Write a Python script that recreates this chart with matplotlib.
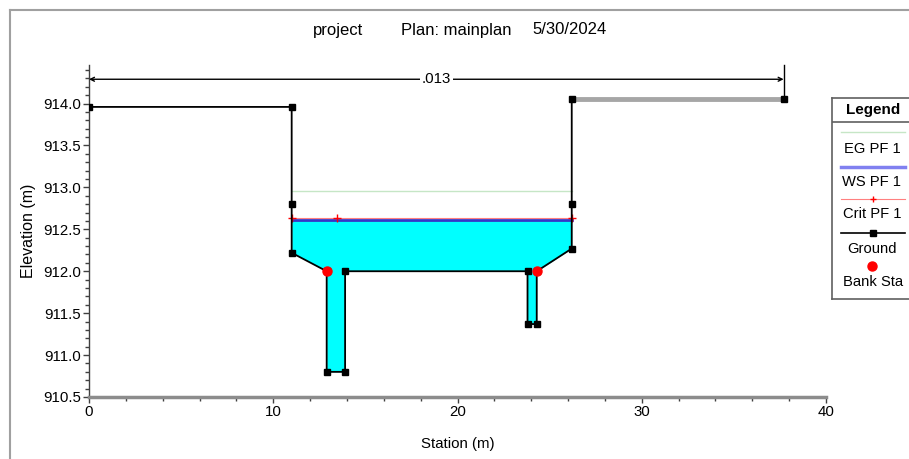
import matplotlib
matplotlib.use("Agg")
import matplotlib.pyplot as plt
from matplotlib.lines import Line2D
import numpy as np

plt.rcParams["font.family"] = ["Liberation Sans", "DejaVu Sans"]
plt.rcParams["font.size"] = 10.8

# ---------------- data ----------------
title_parts = ["project", "Plan: mainplan", "5/30/2024"]

ground_sta = [0.0, 11.0, 11.0, 11.0, 12.9, 12.9, 13.9, 13.9,
              23.8, 23.8, 24.3, 24.3, 26.2, 26.2, 26.2, 37.7]
ground_elev = [913.96, 913.96, 912.8, 912.22, 912.0, 910.8, 910.8, 912.0,
               912.0, 911.37, 911.37, 912.0, 912.27, 912.8, 914.05, 914.05]

bank_sta = [12.9, 24.3]
bank_elev = [912.0, 912.0]

ws_sta = [11.0, 26.2]
ws_elev = 912.61
eg_elev = 912.96
crit_elev = 912.63
crit_mark_sta = 13.45

mann_n = ".013"
mann_sta = [0.0, 37.7]
mann_elev = 914.29

# ---------------- figure ----------------
W, H = 909, 459
fig = plt.figure(figsize=(W / 100, H / 100), dpi=100)

def fx(px):
    return px / W

def fy(py):
    return 1 - py / H

ax = fig.add_axes([fx(89), fy(397), fx(826) - fx(89), fy(65) - fy(397)])
ax.set_xlim(0, 40)
ax.set_ylim(910.5, 914.46)

sta = np.array(ground_sta)
elev = np.array(ground_elev)

# wetted area (between WS and ground inside the channel)
i0, i1 = 3, 12
ax.fill_between(sta[i0:i1 + 1], elev[i0:i1 + 1], ws_elev,
                color="#00ffff", lw=0, zorder=1)

# EG
ax.plot(ws_sta, [eg_elev, eg_elev], color="#c6e6c6", lw=1, zorder=2)
# Crit (thin, peeks out above WS)
ax.plot(ws_sta, [crit_elev] * 2, color="#ff8080", lw=0.8, zorder=2)
# WS
ax.plot(ws_sta, [ws_elev, ws_elev], color="#3535c8", lw=2, zorder=3)
ax.plot([ws_sta[0], crit_mark_sta, ws_sta[1]], [crit_elev] * 3, "+",
        color="red", ms=6, mew=1, lw=0, zorder=4)

# Ground
ax.plot(sta, elev, color="black", lw=1.3, zorder=4)
ax.plot(sta[-2:], elev[-2:], color="#a6a6a6", lw=3.5, zorder=4,
        solid_capstyle="butt")
ax.plot(sta, elev, "s", color="black", ms=5, zorder=5)
ax.plot(bank_sta, bank_elev, "o", color="red", ms=6.5, zorder=6)

# Manning's n
mid = 0.5 * (mann_sta[0] + mann_sta[1])
for end in mann_sta:
    ax.annotate("", xy=(end, mann_elev), xytext=(mid, mann_elev),
                arrowprops=dict(arrowstyle="->", lw=1, color="black",
                                shrinkA=0, shrinkB=0, mutation_scale=7))
ax.plot([mann_sta[1], mann_sta[1]], [ground_elev[-1], 914.46],
        color="black", lw=1, zorder=4, clip_on=False)
ax.text(mid, mann_elev, mann_n, ha="center", va="center", fontsize=10.8,
        bbox=dict(facecolor="white", edgecolor="none", pad=1.5), zorder=6)

# axes styling
for s in ("top", "right"):
    ax.spines[s].set_visible(False)
ax.spines["left"].set_color("#404040")
ax.spines["left"].set_linewidth(1)
ax.spines["bottom"].set_color("#8c8c8c")
ax.spines["bottom"].set_linewidth(2.5)
ax.set_xticks(np.arange(0, 41, 10))
ax.set_xticks(np.arange(0, 41, 2), minor=True)
ax.set_yticks(np.arange(910.5, 914.01, 0.5))
ax.set_yticks(np.arange(910.5, 914.41, 0.1), minor=True)
ax.set_yticklabels([f"{v:.1f}" for v in np.arange(910.5, 914.01, 0.5)])
ax.tick_params(axis="both", which="major", length=4, width=1,
               color="#404040", labelsize=10.8, pad=2)
ax.tick_params(axis="both", which="minor", length=3, width=1, color="#404040")
ax.set_xlabel("Station (m)", fontsize=10.8, labelpad=13)
ax.set_ylabel("Elevation (m)", fontsize=11.5, labelpad=5)

# title pieces
for txt, px in zip(title_parts, [338, 456, 570]):
    fig.text(fx(px), fy(30), txt, ha="center", va="center", fontsize=12)

# outer frame (top and left edges visible)
fig.add_artist(Line2D([fx(10), fx(10)], [fy(10), 0], color="#a0a0a0", lw=1.5))
fig.add_artist(Line2D([fx(10), 1], [fy(10), fy(10)], color="#a0a0a0", lw=1.5))

# legend box
lg = fig.add_axes([fx(832), fy(299), fx(909) - fx(832), fy(98) - fy(299)])
lg.set_xlim(832, 909)
lg.set_ylim(299, 98)
lg.set_xticks([])
lg.set_yticks([])
lg.spines["right"].set_visible(False)
for s in ("left", "top", "bottom"):
    lg.spines[s].set_color("#606060")
    lg.spines[s].set_linewidth(1.2)
lg.text(873, 110, "Legend", ha="center", va="center", fontsize=11,
        fontweight="bold")
lg.plot([832, 909], [122, 122], color="#606060", lw=1.2)
lg.plot([841, 905], [131.5, 131.5], color="#c6e6c6", lw=1)
lg.text(872, 149, "EG PF 1", ha="center", va="center", fontsize=10.6)
lg.plot([841, 905], [167, 167], color="#8080f0", lw=2.5)
lg.text(872, 182, "WS PF 1", ha="center", va="center", fontsize=10.6)
lg.plot([841, 905], [199, 199], color="#ff8080", lw=0.8)
lg.plot([873], [199], "+", color="red", ms=5, mew=1)
lg.text(872, 214, "Crit PF 1", ha="center", va="center", fontsize=10.6)
lg.plot([841, 905], [233, 233], color="black", lw=1.2)
lg.plot([873], [233], "s", color="black", ms=5)
lg.text(872, 249, "Ground", ha="center", va="center", fontsize=10.6)
lg.plot([872], [266], "o", color="red", ms=6.5)
lg.text(873, 282, "Bank Sta", ha="center", va="center", fontsize=10.6)

fig.savefig("out.png", dpi=100)
